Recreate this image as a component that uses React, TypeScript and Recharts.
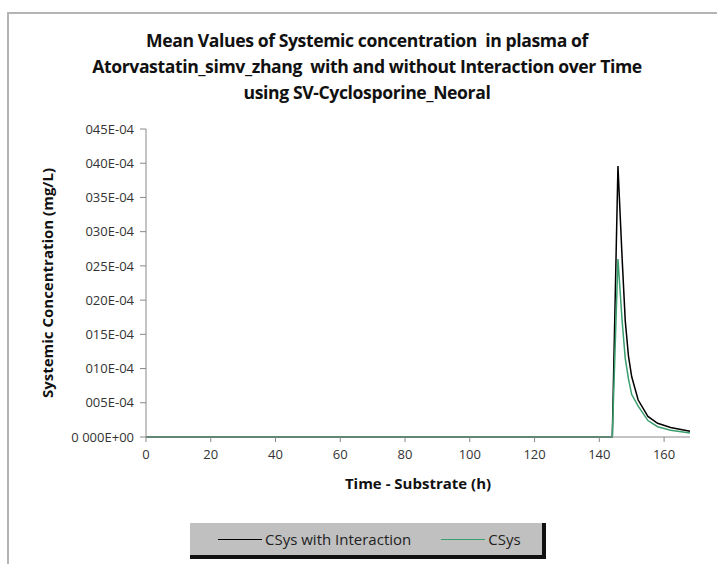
import React from "react";
import { Label, Line, LineChart, XAxis, YAxis } from "recharts";

const times = [0, 24, 48, 72, 96, 120, 144, 145.75, 147, 148, 149, 150, 152, 155, 158, 162, 168];
const withInteraction = [0, 0, 0, 0, 0, 0, 0, 0.00396, 0.00265, 0.0017, 0.00118, 0.00088, 0.00054, 0.0003, 0.0002, 0.00014, 0.000085];
const withoutInteraction = [0, 0, 0, 0, 0, 0, 0, 0.0026, 0.00172, 0.00115, 0.00085, 0.00062, 0.00045, 0.00024, 0.00015, 0.0001, 0.00006];

const xTicks = [0, 20, 40, 60, 80, 100, 120, 140, 160];
const yTicks = [0, 0.0005, 0.001, 0.0015, 0.002, 0.0025, 0.003, 0.0035, 0.004, 0.0045];
const yTickLabels = ["0 000E+00", "005E-04", "010E-04", "015E-04", "020E-04", "025E-04", "030E-04", "035E-04", "040E-04", "045E-04"];

const titleLines = [
  "Mean Values of Systemic concentration  in plasma of",
  "Atorvastatin_simv_zhang  with and without Interaction over Time",
  "using SV-Cyclosporine_Neoral",
];

const data = times.map((t, i) => ({ t, inter: withInteraction[i], csys: withoutInteraction[i] }));

const FONT = "'Open Sans', 'Noto Sans', sans-serif";
const GREEN = "#3a9e6e";

// legend box with the hard black drop shadow of the original
function LegendBox() {
  return (
    <div
      style={{
        position: "absolute",
        left: 190,
        top: 523,
        width: 352,
        height: 32,
        background: "#c0c0c0",
        borderRight: "4px solid #111",
        borderBottom: "4px solid #111",
        display: "flex",
        alignItems: "center",
        fontFamily: FONT,
        fontSize: 15,
        color: "#222",
        zIndex: 5,
      }}
    >
      <span style={{ width: 44, borderTop: "1.5px solid #000", marginLeft: 28, marginRight: 3 }} />
      <span>CSys with Interaction</span>
      <span style={{ width: 44, borderTop: "1.5px solid " + GREEN, marginLeft: 30, marginRight: 3 }} />
      <span>CSys</span>
    </div>
  );
}

export default function App() {
  return (
    <div style={{ position: "absolute", left: 0, top: 0, width: 717, height: 564, background: "#fff", overflow: "hidden" }}>
      <div
        style={{
          position: "absolute",
          left: 7,
          top: 12,
          width: 720,
          height: 560,
          borderLeft: "2px solid #b4b4b4",
          borderTop: "2px solid #b4b4b4",
        }}
      />
      <div
        style={{
          position: "absolute",
          left: 0,
          top: 27,
          width: 734,
          textAlign: "center",
          fontFamily: FONT,
          fontWeight: 700,
          fontSize: 17.6,
          lineHeight: "26px",
          color: "#111",
          letterSpacing: -0.4,
        }}
      >
        {titleLines.map((l) => (
          <div key={l} style={{ whiteSpace: "pre" }}>{l}</div>
        ))}
      </div>
      <LineChart
        width={717}
        height={564}
        data={data}
        margin={{ top: 129, right: 27, bottom: 67, left: 66 }}
        style={{ position: "absolute", left: 0, top: 0 }}
      >
        <XAxis
          type="number"
          dataKey="t"
          domain={[0, 168]}
          ticks={xTicks}
          interval={0}
          height={60}
          stroke="#888"
          tickSize={5}
          tickMargin={8}
          tick={{ fill: "#333", fontSize: 13, fontFamily: FONT }}
          tickLine={{ stroke: "#888" }}
        >
          <Label value="Time - Substrate (h)" position="insideTop" offset={41} style={{ fontFamily: FONT, fontSize: 15, fontWeight: 700, fill: "#111" }} />
        </XAxis>
        <YAxis
          type="number"
          width={80}
          domain={[0, 0.0045]}
          ticks={yTicks}
          interval={0}
          stroke="#888"
          tickSize={6}
          tickMargin={6}
          tickFormatter={(v: number) => yTickLabels[yTicks.indexOf(v)] ?? ""}
          tick={{ fill: "#333", fontSize: 13, fontFamily: FONT }}
        >
          <Label
            value="Systemic Concentration  (mg/L)"
            angle={-90}
            position="center"
            dx={-58}
            dy={0}
            style={{ fontFamily: FONT, fontSize: 15, fontWeight: 700, fill: "#111", textAnchor: "middle" }}
          />
        </YAxis>
        <Line type="linear" dataKey="inter" name="CSys with Interaction" stroke="#000" strokeWidth={1.5} dot={false} isAnimationActive={false} />
        <Line type="linear" dataKey="csys" name="CSys" stroke={GREEN} strokeWidth={1.5} dot={false} isAnimationActive={false} />
      </LineChart>
      <LegendBox />
    </div>
  );
}
